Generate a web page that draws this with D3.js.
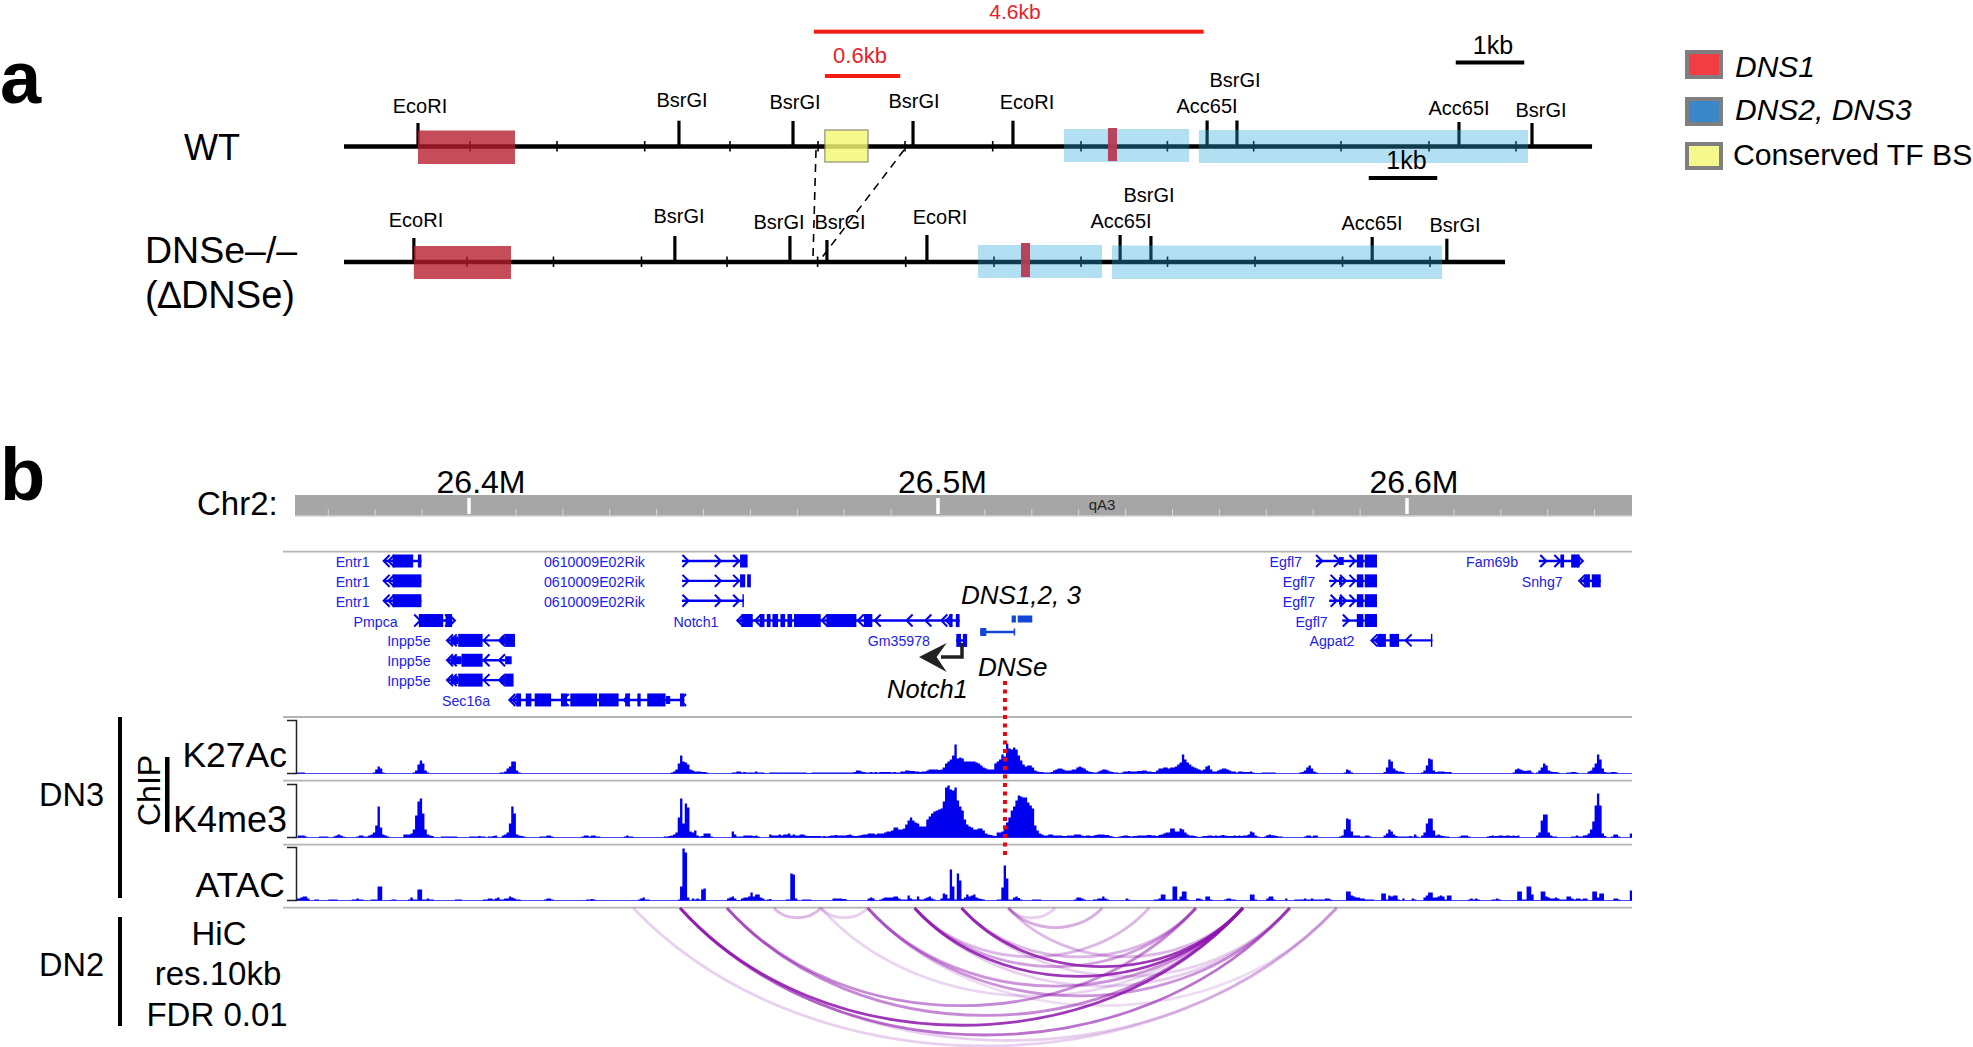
<!DOCTYPE html>
<html><head><meta charset="utf-8">
<script src="https://cdn.jsdelivr.net/npm/d3@7"></script>
<style>html,body{margin:0;padding:0;background:#fff;overflow:hidden}svg{display:block}text{font-family:"Liberation Sans",Arial,sans-serif}</style>
</head><body><svg id="c" width="1973" height="1047"><defs><clipPath id="trk"><rect x="296" y="700" width="1336" height="210"></rect></clipPath></defs></svg>
<script>
/* ---------- panel a : restriction maps (positions in kb along the map) ---------- */
const wtSiteNames=["EcoRI","BsrGI","BsrGI","BsrGI","EcoRI","Acc65I","BsrGI","Acc65I","BsrGI"];
const wtSiteKb=[1.08,4.89,6.555,8.307,9.766,12.6,13.036,16.277,17.343];
const wtMinorKb=[1.84,3.11,4.39,5.635,6.92,8.19,9.47,10.76,12.02,13.28,14.555,15.84,17.11];
const wtEndKb=18.22;
const wtDns1=[[1.08,2.496]], wtTf=[[7.02,7.65]], wtDns23=[[10.51,12.336],[12.48,17.285]], wtSmallRed=[[11.153,11.285]];
const koSiteNames=["EcoRI","BsrGI","BsrGI","BsrGI","EcoRI","Acc65I","BsrGI","Acc65I","BsrGI"];
const koSiteKb=[1.02,4.83,6.51,7.05,8.51,11.33,11.78,15.01,16.1];
const koMinorKb=[1.796,3.058,4.343,5.591,6.914,8.2,9.489,10.759,12.022,13.3,14.577,15.854];
const koEndKb=16.95;
const koDns1=[[1.02,2.438]], koDns23=[[9.255,11.066],[11.212,16.03]], koSmallRed=[[9.883,10.015]];
const redBarLabels=["4.6kb","0.6kb"], redBarKb=[[6.86,12.55],[7.02,8.12]];
const blackBarLabels=["1kb","1kb"], blackBarKb=[[16.23,17.23],[14.96,15.96]];
const legendLabels=["DNS1","DNS2, DNS3","Conserved TF BS"];
/* ---------- panel b : genome browser (positions in kb relative to 26.4 Mb) ---------- */
const rulerLabels=["26.4M","26.5M","26.6M"], rulerKb=[0,100,200];
const rulerMinorKb=[-30,-20,-10,10,20,30,40,50,60,70,80,90,110,120,130,140,150,160,170,180,190,210,220,230,240];
const geneNames=["Entr1","Entr1","Entr1","0610009E02Rik","0610009E02Rik","0610009E02Rik","Pmpca","Inpp5e","Inpp5e","Inpp5e","Sec16a","Notch1","Gm35978","Egfl7","Egfl7","Egfl7","Egfl7","Agpat2","Fam69b","Snhg7"];
const geneRows=[0,1,2,0,1,2,3,4,5,6,7,3,4,0,1,2,3,4,0,1];
const geneLabelEnd=[-21.2,-21.2,-21.2,37.5,37.5,37.5,-15.2,-8.2,-8.2,-8.2,4.5,53.2,98.3,177.6,180.4,180.4,183.1,188.8,223.7,233.2];
const geneSpans=[[-18,-10.15],[-18,-10.15],[-18,-10.15],[45.4,57.8],[45.4,57.8],[45.4,58.6],[-10.7,-3.6],[-4.6,7.7],[-4.6,7.7],[-4.6,7.7],[8.8,45.9],[57.4,104.6],[103.9,106.2],[180.6,191],[183.4,191],[183.4,191],[186.2,191],[192.6,205.4],[228.1,236.8],[237,241.3]];
const geneExons=[
 [[-16.3,-11.9],[-10.9,-10.15]],[[-16.3,-10.15]],[[-16.3,-10.15]],
 [[57.8,59.4]],[[57.8,58.9],[59.3,60.1]],[[58.3,58.6]],
 [[-10.7,-5.5],[-5,-3.6]],
 [[-2.3,2.9],[7.7,9.8]],[[-1.6,2.9]],[[-2.3,2.9],[7.7,9.5]],
 [[10.1,11.1],[12.1,13.3],[14,17.5],[19.6,20.9],[21.6,27.3],[27.7,31.9],[33.3,34.3],[35.9,36.6],[38,41.9],[45,45.9]],
 [[58.1,60.5],[62,63],[63.5,64.3],[64.7,65.9],[66.4,67.4],[67.9,68.9],[69.3,75],[76.2,82.6],[84.2,86],[102.4,103.1],[103.8,104.6]],
 [[103.9,104.9],[105.3,106.2]],
 [[189.3,190.7],[191,193.6]],[[189.3,190.7],[191,193.6]],[[189.3,190.7],[191,193.6]],[[189.3,190.7],[191,193.6]],
 [[193.7,195.5],[196.3,198.3],[205.1,205.4]],
 [[232.7,233.5],[235,236.8]],
 [[237.8,239],[239.4,241.3]]];
const geneSmallExons=[[],[],[],[],[],[],[],[[-3.9,-2.3],[6.8,7.7]],[[-3.9,-1.6],[7.7,9.1]],[[-3.9,-2.3],[6.8,7.7]],[[42,42.9]],[],[],[[185.5,186.5]],[[185.5,186.2]],[[185.5,186.2]],[],[],[],[]];
const geneChevrons=[[-18.2,-17.2],[-18.2,-17.2],[-18.2,-17.2],[46.8,53.7,57.6],[46.8,53.7,57.6],[46.8,53.7,57.6],[-10.4,-3.8,-3],[-4.7,-3.9,3.1,6.4],[-4.7,-3.9,3.1,6.4],[-4.7,-3.9,3.1,6.4],[8.6,9.3,20,33,45],[57.2,58,61,75.2,82.9,86.5,93.3,97.3,100.7,101.7],[],[181.9,185.7,189],[185,187,189],[185,187,189],[187.6],[192.4,193.2,199.7],[229.7,232.7,237.5,236.8],[236.7,237.5]];
const geneStrand=[-1,-1,-1,1,1,1,1,-1,-1,-1,-1,-1,1,1,1,1,1,-1,1,-1];
const dnsBarExons=[[115.7,116.6],[117,120.1]], dnsLineSpan=[109,116.3], dnsLineExon=[109,110.3];
/* tracks: [start kb, heights per 0.5 kb bin] */
const k27ac=[
 [-38,[1,1,1,1,1,1]],[-20.5,[1,4,7,5,1]],[-12,[1,3,9,13,10,3,1]],[6.5,[1,1,2,5,7,12,12,3,1]],
 [43,[1,2,4,10,18,12,11,9,4,3,2,2,2,1.5,1.5,1]],[56,[1,1,2,2,1,1.5,1,1,1,1,2,1,1,1]],
 [64,[1,1,1,1,1,1,1,1,1,1, 1,1,1,1,1,1,.5,.5,1,1, 1,1,1,1,1,1,1,1,1,1, 1,1,1,1,1,1,1.5,3,3,2,
 1.5,1,1,1.5,1,1.5,1,1.5,1.5,1.5, 1.5,1.5,1,1.5,1,1,2,2,3,3, 2.5,2.5,2,2,1.5,2,2,3,4,4,
 4,4,3.5,4,6,10,12,14,18,29, 15,16,15,12,12,12,12,12,11,10, 8,6,5,4,4,4,10,12,14,19,
 17,30,25,24,26,24,18,13,9,7, 8,8,6,3,2,1.5,1.5,1,1,1, 1.5,3,4,5,5,4,3,3,3,4,
 4,6,7,6,5,3,2,1.5,1,1, 2,3,4,4,3,2,1.5,1,1,.5, 1,2,2,2.5,2,2,2,2.5,2.5,3,
 3,2,2,1.5,1.5,3,5,5,6,6, 5,6,6,7,9,11,19,14,11,9, 7,6,5,4,3,4,7,8,4,2,
 2,3,4,5,5,4,3,2,2,1, 2,2,1.5,1.5,1.5,2,1,.5,.5,.5]],
 [169,[1,1,1,1,1,1]],[177,[1,1.5,3,6,8,5,2,1]],[186.5,[1,4,3,1]],[195,[1.5,6,14,12,5,3,2,2,1.5]],
 [203,[1,3,8,15,14,3,1.5,2,2,2,1.5,1.5,1.5]],[222.5,[1,4,5,4,3,2.5,3,3,1]],[227.5,[1,3,6,10,8,3,2,1.5,1.5,1]],
 [234,[1,1,1.5,1.5,1]],[238.5,[2,3,6,10,19,14,5,1.5,1,1,1.5,1.5,1]]];
const k4me3=[
 [-36.5,[2,2,2,1]],[-32,[1,1,1,1]],[-29,[1,2,3,2,1]],[-24,[1,2,2,1]],[-22,[1,2,3,5,12,31,10,3,2,1]],
 [-14,[3,3,3,4,8,22,36,39,24,8,3,2,1.5]],[-6,[1,1,1,1,1,1,1]],[0,[1,1,1,1,1.5,1,1]],[4,[1,1,1.5,2]],
 [7,[2,3,5,14,31,24,3,2,1.5,1]],[15,[1,1,1,2,2,1]],[24,[1,2,2,1,2,2,1,1]],[33,[1,2,1,1]],
 [41.5,[1,1,1.5,2,3,5,20,39,14,34,30,6,5,7,2,1,1.5,4,4,4,1]],[56,[6,3,1,1,1,2,2,2,2,1.5,2,1]],
 [64,[3,2,2,2,3,2,3,3,4,2, 3,2,2,3,3,2,1.5,1.5,1.5,1.5, 1.5,1.5,1,1.5,1,1.5,2,2,2.5,2, 2,2,2,2.5,3,2,1.5,1.5,2,2.5,
 3,3,4,4,4,3,4,4,4,5, 6,6,7,10,10,8,8,9,13,17, 20,17,15,14,11,11,11,18,21,24,
 26,27,28,29,36,50,52,48,47,50, 37,31,27,18,13,11,10,8,8,9, 9,7,4,3,2.5,2,1.5,5,5,6,
 12,15,20,27,31,37,42,41,40,40, 35,32,29,12,7,4,3,2,2,3, 3,2,2,2,2,1.5,1.5,2,2,2,
 3,3,3,2,1.5,2,2,1.5,2,2.5, 3,3,3,2.5,2.5,1.5,1,.5,.5,1, 1.5,2,2,1.5,1,1.5,1.5,2,2,2,
 2,2.5,2.5,2,2,1.5,2.5,3,4,5, 5,9,9,6,6,9,8,5,3,2, 2,1.5,1,.5,1,1.5,1.5,2,2,1.5,
 2,1.5,2,2.5,2,1.5,1.5,1.5,2,1.5, 2,1.5,2,2,3,6,5,2,1,.5, .5,1,2,3,2]],
 [170,[2,2,2,2,1.5,1,1]],[178,[1,2,2,1,2,2]],[185.5,[1,2,8,19,18,6,2,2,2,1,1,2,2,1]],[195,[2,4,8,6,3,1.5,1,1,1,1,1,1.5,1,3,1]],
 [203,[2,5,14,19,19,7,2,3,2,1.5,1,1]],[211,[1,2,2,2,1]],[217,[1,1.5,2,1.5,1.5,2,2,1.5,2,2,1.5,2,1.5,2]],
 [227.5,[2,5,17,23,23,5,2,1,1]],[235,[1,1,2,1,1,2,2,1,2]],[238,[2,4,8,16,32,44,32,4,1.5]],[243.5,[1,3,3,1]],[247.5,[4,4]]];
const atac=[
 [-37.5,[1,2,2,3,4,4,2]],[-33,[1,1]],[-30,[1,1,1,1]],[-25,[1,1,2,1,1]],[-21,[1,1,1]],[-19.5,[14,14]],[-17,[.5,1,1]],[-13,[1,3,1,1]],
 [-11,[11,11,1,1,2,1,1]],[-3,[1,1,1]],[3,[1,1,2,2,1,2,3,1,1,2,2,4,3,2,1,1]],[16,[1,2,2,1]],[25,[1,1,1.5,1]],[36,[1,2,3,1,1]],
 [44.5,[1,14,52,48,3]],[47.5,[2,1,2,1,11,12]],[55,[2,3,4,2,.5,.5,2,3,3,4,8,4,6,6,3,2,.5,1,1.5]],
 [67.5,[1,1,27,26,2]],[71,[1,1,1,1]],[77.5,[2,2,2,2,1.5,1.5]],[85,[2,3,2]],[87.5,[1,2,3,3,3,3,4,4,2,1,1,1,5,2,1,1,4,1,1,2,3,4,2,1]],
 [100.5,[2,7,6,2,31,14,1,27,20,1.5,3,6,4,5,6,3,2,1.5,1]],[112.5,[1,1,13,35,22,1,1,3,4,2.5,1]],[120,[1,1,1,1]],[129,[1,3,3,2,1]],[133,[1,1,2,2,4,2,1]],[140,[2,1]],
 [146,[1,1,2,6,6,1,1,1,14,14,1,4,9,9,1]],[155,[2,2,1]],[157,[4,4,1]],[161,[1,2,2,1,1]],[166.5,[6,6,1]],[170,[2,4,4,1]],[174,[2]],[176,[1,1,1,1,2,1,1,2,1,1,1,1,1,2,2,1]],
 [187,[9,9,5,4,3,3,2,2,1,1,1,1]],[194.5,[7,7,1,5,4,5,5,1]],[199,[2]],[201,[2,1]],[203.5,[3,5,8,8,3,3,4,5,4,1,5,5]],[213,[1,2,1,2,1]],[218,[1,1,2,1]],
 [223.5,[9,9,1,1,14,14,6]],[228.5,[9,9,4,3,2,2,3,2,1,1,1,4,4,2,1,2,2,1,2,2]],[239.5,[9,9,3,7,7]],[244,[2,2,1]],[247.5,[10,10]]];
/* Hi-C loops: anchor bins (kb rel. 26.4 Mb) and strength */
const hicStart=[35,45,45,45,55,55,65,75,75,85,85,85,95,95,95,95,105,105,105,115,115,115];
const hicEnd=[185,185,175,165,165,155,75,85,165,185,175,165,175,165,155,145,175,165,155,165,135,125];
const hicScore=[.2,.2,.6,.85,.5,.5,.3,.2,.18,.15,.45,.45,.2,.85,.4,.3,.2,.85,.3,.3,.35,.2];
const sideLabels=["DN3","DN2"];
const trackLabels=["K27Ac","K4me3","ATAC"];
const hicLabels=["HiC","res.10kb","FDR 0.01"];

/* ---------- layout ---------- */
const svg=d3.select("#c");
const black="#000", red="#f31c12";
const T=(x,y,s,size,o={})=>{const t=svg.append("text").attr("x",x).attr("y",y).attr("font-size",size).attr("fill",o.fill||black).attr("text-anchor",o.anchor||"start").text(s);
 if(o.italic)t.attr("font-style","italic"); if(o.bold)t.attr("font-weight","bold"); if(o.rot)t.attr("transform",`rotate(${o.rot} ${x} ${y})`); return t;};
const R=(x0,y0,x1,y1,fill,op=1)=>svg.append("rect").attr("x",x0).attr("y",y0).attr("width",x1-x0).attr("height",y1-y0).attr("fill",fill).attr("opacity",op);
const L=(x1,y1,x2,y2,col,w)=>svg.append("line").attr("x1",x1).attr("y1",y1).attr("x2",x2).attr("y2",y2).attr("stroke",col).attr("stroke-width",w);

/* panel a */
const mx=d3.scaleLinear().domain([0,1]).range([344,412.5]);
T(0,103,"a",74,{bold:true});
T(184,160,"WT",36);
T(145,263,"DNSe–/–",37.5);
T(145,308,"(∆DNSe)",38);
function mapRow(y,endKb,minor,sites,names,tops,lab){
 L(mx(0),y,mx(endKb),y,black,4.5);
 minor.forEach(k=>L(mx(k),y-5.5,mx(k),y+5,black,1.6));
 sites.forEach((k,i)=>{L(mx(k),tops[i],mx(k),y,black,3.2);
  T(lab[i][0],lab[i][1],names[i],20,{anchor:"middle"});});
}
mapRow(146.5,wtEndKb,wtMinorKb,wtSiteKb,wtSiteNames,[123,120.7,121,121,120.7,120.5,120.5,122,123],
 [[420,113],[682,107],[795,108.7],[914,108],[1027,108.7],[1207,113],[1235,87],[1459,115],[1541,117]]);
mapRow(262,koEndKb,koMinorKb,koSiteKb,koSiteNames,[238,236,236,240,235,235,236,237,238.7],
 [[416,227],[679,223],[779,229],[840,229],[940,224],[1121,228],[1149,202],[1372,230],[1455,232]]);
const boxes=(list,y0,y1,fill,op)=>list.forEach(b=>R(mx(b[0]),y0,mx(b[1]),y1,fill,op));
boxes(wtDns23.slice(0,1),129,162,"rgb(44,167,222)",.36);
boxes(wtDns23.slice(1),130,163,"rgb(44,167,222)",.36);
boxes(koDns23.slice(0,1),245,278,"rgb(44,167,222)",.36);
boxes(koDns23.slice(1),245.5,279,"rgb(44,167,222)",.36);
boxes(wtDns1,130.5,164,"rgb(181,29,46)",.79);
boxes(koDns1,246,279,"rgb(181,29,46)",.79);
boxes(wtSmallRed,128,161,"#b73a54",.95);
boxes(koSmallRed,243,277,"#b73a54",.95);
wtTf.forEach(b=>R(mx(b[0]),130,mx(b[1]),162,"rgb(244,248,115)",.82).attr("stroke","#77775a").attr("stroke-width",1.2));
svg.append("path").attr("d","M816 150 L813 257 L818 262").attr("fill","none").attr("stroke",black).attr("stroke-width",1.6).attr("stroke-dasharray","8 6");
svg.append("path").attr("d","M904 150 L820 260").attr("fill","none").attr("stroke",black).attr("stroke-width",1.6).attr("stroke-dasharray","8 6");
redBarKb.forEach((b,i)=>R(mx(b[0]),[29.7,74][i],mx(b[1]),[33.7,78][i],red));
T(1015,19,redBarLabels[0],21,{fill:"#e8202a",anchor:"middle"});
T(860,62.7,redBarLabels[1],22,{fill:"#e8202a",anchor:"middle"});
blackBarKb.forEach((b,i)=>R(mx(b[0]),[60.5,176][i],mx(b[1]),[64.5,180][i],black));
T(1493,54,blackBarLabels[0],25,{anchor:"middle"});
T(1406.5,168.7,blackBarLabels[1],25,{anchor:"middle"});
const swatch=(y0,y1,col)=>R(1687,y0+2,1721,y1-2,col).attr("stroke","#7f7f7f").attr("stroke-width",4);
swatch(50,79,"#f33d45");swatch(97,126,"#3a87c8");swatch(142,170,"#f5f98c");
T(1735,76.5,legendLabels[0],30,{italic:true});
T(1735,120,legendLabels[1],30,{italic:true});
T(1733,165,legendLabels[2],30.2);

/* panel b */
const gx=d3.scaleLinear().domain([0,200]).range([469,1407]);
T(0,500,"b",74,{bold:true});
T(197,515,"Chr2:",33);
R(295,495,1632,516,"#a6a6a6");
L(295,516,1632,516,"#cfcfcf",1.5);
rulerMinorKb.forEach(k=>L(gx(k),509,gx(k),516,"#d8d8d8",1));
rulerKb.forEach((k,i)=>{L(gx(k),498,gx(k),514,"#fff",3.5);});
T(481,492.7,rulerLabels[0],32,{anchor:"middle"});
T(942.5,492.7,rulerLabels[1],32,{anchor:"middle"});
T(1414,492.7,rulerLabels[2],32,{anchor:"middle"});
T(1102,510,"qA3",15,{anchor:"middle",fill:"#222"});
[551.7,717,780.7,844.7,907.7].forEach(y=>L(283,y,1632,y,"#b4b4b4",1.8));

const rowY=r=>561+r*19.85, geneBlue="#0000f0", dnsBlue="#1146d8";
geneNames.forEach((n,i)=>{
 const y=rowY(geneRows[i]);
 T(gx(geneLabelEnd[i]),y+6,n,14.2,{anchor:"end",fill:"#2020ee"});
 L(gx(geneSpans[i][0]),y,gx(geneSpans[i][1]),y,geneBlue,2.4);
 geneExons[i].forEach(e=>R(gx(e[0]),y-6.5,gx(e[1]),y+6.5,geneBlue));
 geneSmallExons[i].forEach(e=>R(gx(e[0]),y-4,gx(e[1]),y+4,geneBlue));
 geneChevrons[i].forEach(k=>{const t=gx(k),d=geneStrand[i]*6;
  svg.append("path").attr("d",`M${t-d} ${y-6} L${t} ${y} L${t-d} ${y+6}`).attr("fill","none").attr("stroke",geneBlue).attr("stroke-width",2);});
});
dnsBarExons.forEach(e=>R(gx(e[0]),615.5,gx(e[1]),622.5,dnsBlue));
L(gx(dnsLineSpan[0]),632,gx(dnsLineSpan[1]),632,dnsBlue,2.4);
R(gx(dnsLineExon[0]),628,gx(dnsLineExon[1]),636,dnsBlue);
L(gx(dnsLineSpan[1]),628.5,gx(dnsLineSpan[1]),635.5,dnsBlue,1.5);
T(961,604,"DNS1,2, 3",26,{italic:true});
T(978,676,"DNSe",26,{italic:true});
T(887,698,"Notch1",25.5,{italic:true});
svg.append("path").attr("d","M962 643 L962 657 L941 657").attr("fill","none").attr("stroke","#222").attr("stroke-width",3.5);
svg.append("path").attr("d","M919 657 L946.7 643 L936.6 657 L946.7 672 Z").attr("fill","#222");

const trackBase=[773.5,837.5,900.5], trackData=[k27ac,k4me3,atac];
const bin=0.5;
trackData.forEach((segs,i)=>{
 const yy=d3.scaleLinear().domain([0,53]).range([trackBase[i],trackBase[i]-53]);
 const area=d3.area().x(d=>gx(d[0])).y0(yy(0)).y1(d=>yy(d[1])).curve(d3.curveStepAfter);
 L(296,trackBase[i],1632,trackBase[i],"#4a4af5",1.2);
 segs.forEach(s=>{const pts=s[1].map((v,j)=>[s[0]+j*bin,v]);pts.push([s[0]+s[1].length*bin,s[1][s[1].length-1]]);
  svg.append("path").attr("d",area(pts)).attr("fill","#0000ee").attr("clip-path","url(#trk)");});
 const b=trackBase[i];
 svg.append("path").attr("d",`M287 ${b-53} H296.5 V${b} H287`).attr("fill","none").attr("stroke","#222").attr("stroke-width",1.5);
});
svg.append("line").attr("x1",1005).attr("x2",1005).attr("y1",681).attr("y2",858).attr("stroke","#f40010").attr("stroke-width",4).attr("stroke-dasharray","4 4.5");

const depth=d3.scaleLinear().domain([0,130,150]).range([0,127,138]);
const hop=d3.scaleLinear().domain([0,1]).range([0,1]);
const y0=908;
hicStart.forEach((s,i)=>{const a=gx(s),b=gx(hicEnd[i]),w=b-a,d=depth(hicEnd[i]-s)*4/3;
 svg.append("path").attr("d",`M${a} ${y0} C${a+.25*w} ${y0+d} ${b-.25*w} ${y0+d} ${b} ${y0}`)
  .attr("fill","none").attr("stroke","#8d14ac").attr("stroke-width",2.8).attr("stroke-opacity",hop(hicScore[i]));});

R(118,717,122,898,black);R(118,917,122,1026,black);
T(39,806,sideLabels[0],32.5);T(39,976,sideLabels[1],32.5);
T(160,826,"ChIP",32,{rot:-90});
R(165,757,169.5,832,black);
T(287,767,trackLabels[0],35.5,{anchor:"end"});
T(287,832,trackLabels[1],36,{anchor:"end"});
T(285,897,trackLabels[2],35.5,{anchor:"end"});
T(219,944.5,hicLabels[0],33,{anchor:"middle"});
T(218,985,hicLabels[1],33,{anchor:"middle"});
T(217,1026,hicLabels[2],33,{anchor:"middle"});
</script></body></html>
